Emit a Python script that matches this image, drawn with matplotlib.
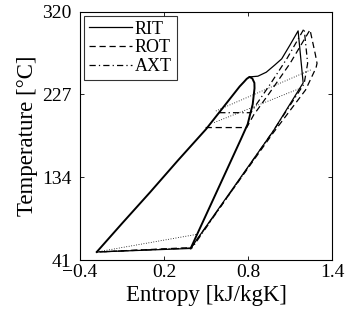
"""
T-s dijagram: RIT / ROT / AXT ciklusi
"""

import matplotlib.pyplot as plt

plt.rcParams['font.family'] = ['Liberation Serif', 'DejaVu Serif']
plt.rcParams['mathtext.fontset'] = 'stix'

# zasicenje (kupola)
dome_s = [-0.28, -0.1, 0.1, 0.3, 0.5, 0.62, 0.70, 0.74, 0.77, 0.79, 0.81,
          0.83, 0.845, 0.846, 0.833, 0.797, 0.749, 0.6, 0.39]
dome_T = [50, 82, 117, 153, 188, 212, 228, 236, 241, 244.5, 246.7,
          245, 240, 234, 216, 193.6, 176.8, 125.8, 54]

# RIT - nadkriticni ciklus (puna linija)
rit_s = [0.81, 0.87, 0.93, 0.99, 1.04, 1.10, 1.157, 1.193, 0.98, 0.39, -0.28]
rit_T = [246.7, 247.5, 252, 260, 267, 282.8, 298.4, 240, 186, 54, 50]

# ROT (isprekidana)
rot_s = [0.497, 0.79, 0.84, 0.95, 1.10, 1.242, 1.28, 1.292, 1.285, 1.21, 0.98, 0.395, -0.28]
rot_T = [189.8, 189.8, 204, 228, 262, 299.6, 272, 262, 257, 232, 184, 55, 50]

# AXT (crta-tacka)
axt_s = [0.594, 0.82, 0.86, 0.96, 1.08, 1.20, 1.225, 1.20, 0.98, 0.40, -0.28]
axt_T = [206.5, 206.5, 216, 239, 268, 301, 262, 239, 186, 54.5, 50]

# tackaste linije (regenerator)
dot1_s = [-0.28, 0.44]
dot1_T = [50, 70]
dot2_s = [0.558, 1.18]
dot2_T = [195.4, 234.4]
dot3_s = [0.57, 1.253]
dot3_T = [208.4, 255]

xticks = [-0.4, 0.2, 0.8, 1.4]
yticks = [41, 134, 227, 320]


def main():
    fig = plt.figure(figsize=(3.46, 3.24), dpi=100)
    ax = fig.add_axes([0.231, 0.1975, 0.729, 0.7665])

    ax.plot(dome_s, dome_T, color='k', lw=1.4)
    ax.plot(rit_s, rit_T, 'k-', lw=0.9, label='RIT')
    ax.plot(rot_s, rot_T, 'k--', lw=0.9, dashes=(5, 3), label='ROT')
    ax.plot(axt_s, axt_T, 'k-.', lw=0.9, dashes=(5, 2.5, 1, 2.5), label='AXT')
    for s, T in [(dot1_s, dot1_T), (dot2_s, dot2_T), (dot3_s, dot3_T)]:
        ax.plot(s, T, color='k', ls=(0, (1, 2)), lw=0.6)

    ax.set_xlim(-0.4, 1.4)
    ax.set_ylim(41, 320)
    ax.set_xticks(xticks)
    ax.set_xticklabels(['\u22120.4', '0.2', '0.8', '1.4'])
    ax.set_yticks(yticks)
    ax.tick_params(direction='in', top=True, right=True, labelsize=14,
                   length=3, width=0.6)
    ax.tick_params(axis='y', pad=6)
    ax.tick_params(axis='x', pad=3)
    for sp in ax.spines.values():
        sp.set_linewidth(0.8)

    ax.set_xlabel('Entropy [kJ/kgK]', fontsize=16.5, labelpad=3)
    ax.set_ylabel('Temperature [\u00b0C]', fontsize=16.5, labelpad=3)

    leg = ax.legend(loc='upper left', fontsize=13, frameon=True, fancybox=False,
                    edgecolor='k', handlelength=2.4, handletextpad=0.15,
                    borderpad=0.25, labelspacing=0.1, borderaxespad=0.25)
    leg.get_frame().set_linewidth(0.8)

    plt.savefig('out.png', dpi=100)


if __name__ == "__main__":
    main()
